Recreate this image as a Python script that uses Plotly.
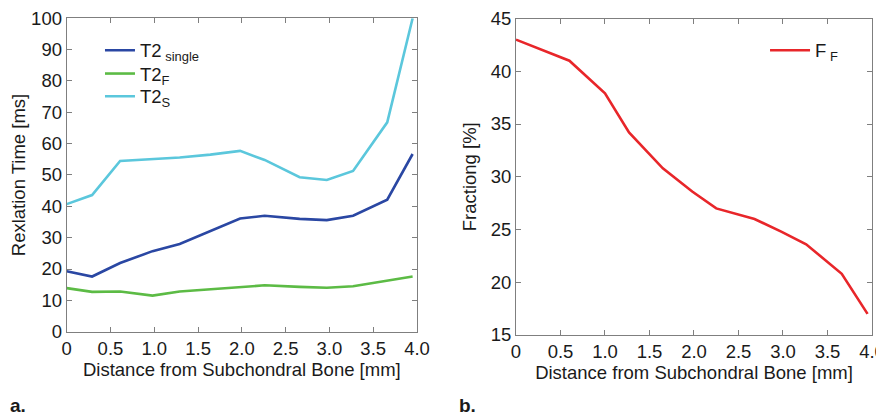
import plotly.graph_objects as go

# Data
dist = [0, 0.29, 0.61, 0.98, 1.29, 1.64, 1.98, 2.26, 2.66, 2.97, 3.27, 3.66, 3.95]
t2_single = [19.3, 17.6, 21.9, 25.7, 28.0, 32.0, 36.1, 37.0, 36.0, 35.6, 37.0, 42.1, 56.7]
t2_f = [13.9, 12.7, 12.8, 11.5, 12.8, 13.6, 14.4, 14.8, 14.3, 14.0, 14.5, 16.4, 17.6]
t2_s = [40.7, 43.6, 54.5, 55.0, 55.6, 56.5, 57.7, 54.8, 49.3, 48.4, 51.3, 66.8, 100.0]
dist_b = [0, 0.27, 0.6, 1.0, 1.27, 1.65, 1.98, 2.25, 2.68, 2.98, 3.26, 3.66, 3.95]
frac_f = [43.0, 42.1, 41.0, 37.9, 34.2, 30.8, 28.6, 27.0, 26.0, 24.8, 23.6, 20.8, 17.0]

x_ticks = [0, 0.5, 1.0, 1.5, 2.0, 2.5, 3.0, 3.5, 4.0]
x_labels = ["0", "0.5", "1.0", "1.5", "2.0", "2.5", "3.0", "3.5", "4.0"]

FONT = "Liberation Sans"
FS = 18.5
AX = "#7f7f7f"
TXT = "#1a1a1a"

fig = go.Figure()
fig.add_trace(go.Scatter(x=dist, y=t2_single, mode="lines", name="T2<sub> single</sub>",
                         line=dict(color="#2a47a3", width=2.6), xaxis="x", yaxis="y", legend="legend"))
fig.add_trace(go.Scatter(x=dist, y=t2_f, mode="lines", name="T2<sub>F</sub>",
                         line=dict(color="#5cbb45", width=2.6), xaxis="x", yaxis="y", legend="legend3"))
fig.add_trace(go.Scatter(x=dist, y=t2_s, mode="lines", name="T2<sub>S</sub>",
                         line=dict(color="#5bc7dc", width=2.6), xaxis="x", yaxis="y", legend="legend4"))
fig.add_trace(go.Scatter(x=dist_b, y=frac_f, mode="lines", name="F<sub> F</sub>",
                         line=dict(color="#e8262a", width=2.6), xaxis="x2", yaxis="y2", legend="legend2"))

axis_common = dict(showline=True, linecolor=AX, linewidth=1, mirror="ticks", automargin=False,
                   ticks="inside", ticklen=5, tickcolor=AX, showgrid=False, zeroline=False,
                   ticklabeloverflow="allow",
                   tickfont=dict(family=FONT, size=FS, color=TXT))
title_font = dict(family=FONT, size=FS, color=TXT)
leg_common = dict(xanchor="left", yanchor="middle", bgcolor="rgba(0,0,0,0)",
                  font=dict(family=FONT, size=FS, color=TXT))

fig.update_layout(
    width=876, height=409,
    margin=dict(l=0, r=0, t=0, b=0, autoexpand=False),
    paper_bgcolor="white", plot_bgcolor="white",
    showlegend=True,
    xaxis=dict(domain=[0.0670, 0.4669], range=[0, 4.0], tickvals=x_ticks, ticktext=x_labels,
               anchor="y",
               title=dict(text="Distance from Subchondral Bone [mm]", standoff=2, font=title_font),
               **axis_common),
    yaxis=dict(domain=[0.2086, 0.9748], range=[0, 100], dtick=10, anchor="x",
               title=dict(text="Rexlation Time [ms]", standoff=8, font=title_font), **axis_common),
    xaxis2=dict(domain=[0.5799, 0.9863], range=[0, 4.0], tickvals=x_ticks, ticktext=x_labels,
                anchor="y2",
                title=dict(text="Distance from Subchondral Bone [mm]", standoff=2, font=title_font),
                **axis_common),
    yaxis2=dict(domain=[0.2005, 0.9743], range=[15, 45], dtick=5, anchor="x2",
                title=dict(text="Fractiong [%]", standoff=9, font=title_font), **axis_common),
    legend=dict(x=0.105, y=0.8956, itemwidth=30, **leg_common),
    legend3=dict(x=0.105, y=0.8386, itemwidth=30, **leg_common),
    legend4=dict(x=0.105, y=0.7831, itemwidth=30, **leg_common),
    legend2=dict(x=0.8642, y=0.8956, itemwidth=40, **leg_common),
    annotations=[
        dict(text="<b>a.</b>", x=0.0, y=0.0293, xref="paper", yref="paper", xanchor="left",
             yanchor="middle", showarrow=False, font=dict(family=FONT, size=19, color=TXT)),
        dict(text="<b>b.</b>", x=0.513, y=0.0293, xref="paper", yref="paper", xanchor="left",
             yanchor="middle", showarrow=False, font=dict(family=FONT, size=19, color=TXT)),
    ],
)

fig.write_html("out.html")
